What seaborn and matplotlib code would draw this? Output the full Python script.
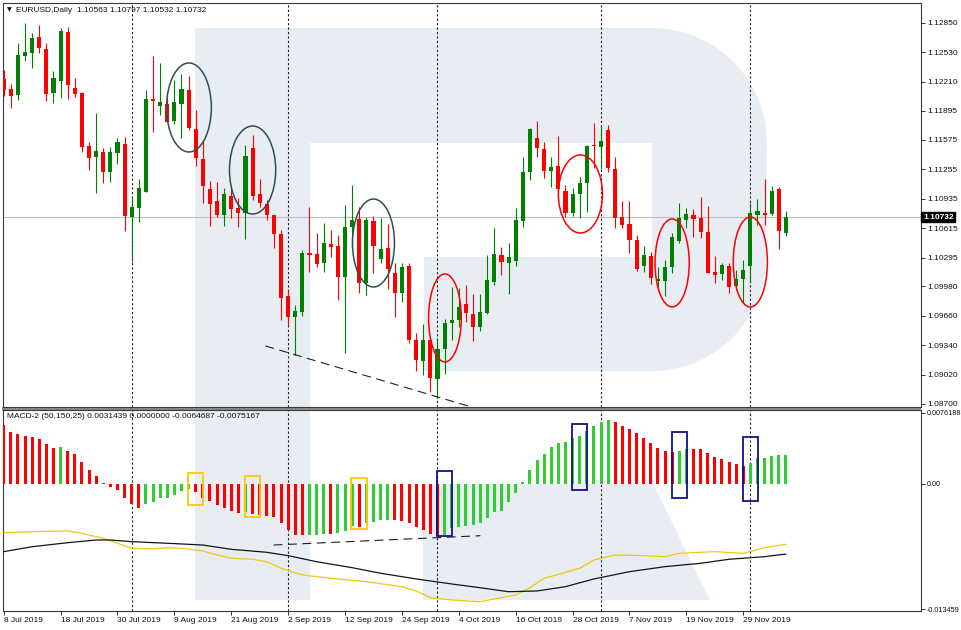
import matplotlib
matplotlib.use("Agg")
import matplotlib.pyplot as plt
import matplotlib.patches as mpatches
from matplotlib.transforms import Affine2D
import seaborn as sns
import numpy as np

# daily EURUSD candles, 8 Jul 2019 .. 9 Dec 2019
opens = [1.12236, 1.1213, 1.12065, 1.12493, 1.12526, 1.127, 1.12566, 1.1209, 1.12221, 1.12748,
         1.12145, 1.12084, 1.1151, 1.11387, 1.11441, 1.1123, 1.1143, 1.11528, 1.1074, 1.10838,
         1.11012, 1.12018, 1.11948, 1.11967, 1.11785, 1.11967, 1.12119, 1.11695, 1.11365, 1.11045,
         1.10911, 1.10758, 1.10965, 1.10838, 1.10777, 1.11491, 1.10987, 1.10878, 1.10758, 1.10551,
         1.09879, 1.09644, 1.09705, 1.10341, 1.1033, 1.10239, 1.10442, 1.10424, 1.1008, 1.10624,
         1.10715, 1.10021, 1.10693, 1.10276, 1.10396, 1.1013, 1.09912, 1.10206, 1.09397, 1.09172,
         1.09397, 1.08969, 1.09296, 1.09585, 1.09615, 1.09789, 1.09677, 1.09535, 1.09688, 1.10032,
         1.10323, 1.10239, 1.10261, 1.10696, 1.1123, 1.11593, 1.11477, 1.11237, 1.11295, 1.11023,
         1.10777, 1.10984, 1.1111, 1.1152, 1.11495, 1.11684, 1.11256, 1.10733, 1.10657, 1.10486,
         1.10206, 1.10312, 1.10043, 1.10043, 1.10189, 1.10478, 1.10704, 1.10758, 1.10722, 1.1057,
         1.10141, 1.10116, 1.10203, 1.09985, 1.10058, 1.10203, 1.10758, 1.10783, 1.10769, 1.11038,
         1.10563]
highs = [1.12337, 1.12182, 1.12635, 1.12846, 1.12737, 1.12827, 1.12628, 1.1233, 1.12798, 1.12809,
         1.12247, 1.12094, 1.11556, 1.11866, 1.11491, 1.11495, 1.116, 1.11611, 1.10947, 1.1115,
         1.12119, 1.1249, 1.1241, 1.12057, 1.12228, 1.12294, 1.12275, 1.11902, 1.11575, 1.11132,
         1.11121, 1.11049, 1.1106, 1.1094, 1.1152, 1.11629, 1.1115, 1.10922, 1.10758, 1.10595,
         1.09941, 1.09778, 1.10377, 1.10842, 1.10559, 1.10668, 1.10595, 1.1054, 1.10867, 1.11085,
         1.10849, 1.10733, 1.10747, 1.10722, 1.1066, 1.10232, 1.10232, 1.10232, 1.0947, 1.09571,
         1.09415, 1.09415, 1.09622, 1.09977, 1.0996, 1.09996, 1.09895, 1.09895, 1.10323, 1.1062,
         1.10413, 1.10457, 1.10838, 1.11387, 1.11702, 1.11782, 1.11556, 1.11387, 1.11622, 1.11085,
         1.11049, 1.11169, 1.1152, 1.11757, 1.11738, 1.11738, 1.11393, 1.10914, 1.10914, 1.1054,
         1.10421, 1.10359, 1.10195, 1.10268, 1.10565, 1.10886, 1.10831, 1.1082, 1.10957, 1.10859,
         1.10312, 1.10239, 1.10232, 1.10159, 1.10268, 1.10892, 1.10929, 1.1115, 1.11074, 1.1106,
         1.10797]
lows = [1.12054, 1.1192, 1.12007, 1.12435, 1.12362, 1.12519, 1.12003, 1.11981, 1.12036, 1.12018,
        1.12047, 1.11448, 1.11248, 1.11001, 1.1111, 1.11121, 1.11314, 1.10584, 1.1025, 1.10679,
        1.11005, 1.11659, 1.11847, 1.11767, 1.11746, 1.116, 1.11687, 1.11292, 1.10886, 1.10638,
        1.1074, 1.10638, 1.10722, 1.10624, 1.10494, 1.10922, 1.10842, 1.10704, 1.10402, 1.09615,
        1.0956, 1.09234, 1.09658, 1.10141, 1.10195, 1.10141, 1.10304, 1.09833, 1.09252, 1.10413,
        1.09912, 1.09887, 1.10123, 1.10232, 1.09949, 1.09651, 1.09814, 1.09361, 1.09063, 1.09016,
        1.08834, 1.08762, 1.09027, 1.09397, 1.09542, 1.09596, 1.09389, 1.09498, 1.0968, 1.09996,
        1.10105, 1.09898, 1.10206, 1.10631, 1.11139, 1.11393, 1.11164, 1.1106, 1.11023, 1.1074,
        1.10747, 1.10722, 1.10794, 1.11275, 1.11259, 1.1123, 1.1062, 1.1062, 1.10341, 1.10152,
        1.10141, 1.10007, 1.09941, 1.09876, 1.1013, 1.10457, 1.10613, 1.10522, 1.10511, 1.10123,
        1.10014, 1.1005, 1.09906, 1.09941, 1.09814, 1.10014, 1.1065, 1.1065, 1.10758, 1.10385,
        1.10532]
closes = [1.12119, 1.12057, 1.12501, 1.12537, 1.12689, 1.12574, 1.12076, 1.12247, 1.12762, 1.12174,
          1.12076, 1.11495, 1.11382, 1.11455, 1.11223, 1.11448, 1.1155, 1.10747, 1.10842, 1.11049,
          1.12021, 1.12, 1.11985, 1.11774, 1.11985, 1.1213, 1.11702, 1.11376, 1.11074, 1.10875,
          1.10758, 1.10987, 1.10824, 1.10777, 1.11404, 1.10968, 1.10886, 1.10758, 1.10548, 1.09851,
          1.09651, 1.09716, 1.10341, 1.10323, 1.10225, 1.1045, 1.10413, 1.1008, 1.10631, 1.10704,
          1.10021, 1.10704, 1.10424, 1.10388, 1.1017, 1.09906, 1.10195, 1.09397, 1.09179, 1.09397,
          1.0898, 1.09296, 1.09579, 1.09615, 1.0976, 1.09688, 1.09542, 1.09699, 1.1005, 1.10334,
          1.1025, 1.10304, 1.10704, 1.1123, 1.11695, 1.11485, 1.11237, 1.11284, 1.11038, 1.10777,
          1.10984, 1.11103, 1.11513, 1.1151, 1.11567, 1.11267, 1.10722, 1.10649, 1.10486, 1.1017,
          1.10323, 1.10069, 1.10058, 1.10195, 1.10515, 1.10722, 1.10766, 1.10711, 1.10576, 1.1013,
          1.10105, 1.10214, 1.09977, 1.10058, 1.10159, 1.10777, 1.10805, 1.10758, 1.11023, 1.10587,
          1.10732]

# MACD-2 histogram, one value per candle
hist = [0.00633, 0.00561, 0.00533, 0.00515, 0.00501, 0.0048, 0.00426, 0.00383, 0.00394, 0.00354,
        0.00318, 0.00233, 0.0015, 0.00086, 0.00012, -0.00029, -0.00064, -0.00154, -0.00218, -0.00254,
        -0.00218, -0.0019, -0.00154, -0.00147, -0.00118, -0.00075, -0.0005, -0.00089, -0.0015, -0.00182,
        -0.00225, -0.00261, -0.0029, -0.00315, -0.00305, -0.0032, -0.00333, -0.0034, -0.00355, -0.00422,
        -0.00494, -0.00545, -0.0055, -0.00548, -0.00545, -0.00538, -0.0054, -0.00525, -0.00505, -0.0045,
        -0.00458, -0.0042, -0.00404, -0.0039, -0.00385, -0.00387, -0.00395, -0.0042, -0.0046, -0.00495,
        -0.0054, -0.0056, -0.0055, -0.00476, -0.00462, -0.0045, -0.0044, -0.00422, -0.00368, -0.00304,
        -0.0029, -0.00189, -0.001, 0.00018, 0.0015, 0.00258, 0.00322, 0.004, 0.00436, 0.00447,
        0.0049, 0.00515, 0.00572, 0.00622, 0.00669, 0.00687, 0.00669, 0.00626, 0.0059, 0.00544,
        0.00497, 0.00436, 0.0039, 0.00354, 0.00347, 0.00354, 0.00376, 0.00375, 0.00372, 0.00329,
        0.00293, 0.00268, 0.0024, 0.00211, 0.00197, 0.00222, 0.00275, 0.00283, 0.00305, 0.0031,
        0.00314]

# the two MACD-2 lines, sampled along the chart
yellow_idx = [0, 4, 9, 11, 14, 16, 18, 21, 23, 25, 28, 30, 32, 35, 37, 39, 42, 46, 51, 56,
              58, 60, 63, 67, 72, 74, 76, 81, 83, 86, 90, 93, 95, 100, 104, 107, 110]
yellow_val = [-0.00523, -0.00512, -0.00504, -0.00529, -0.00583, -0.00636, -0.0069, -0.00697, -0.00683, -0.0069,
              -0.00719, -0.00762, -0.00797, -0.00808, -0.00834, -0.00905, -0.00976, -0.01012, -0.01048, -0.01102,
              -0.01148, -0.0122, -0.01245, -0.01263, -0.01191, -0.01113, -0.01012, -0.00905, -0.00815, -0.00762,
              -0.00769, -0.0078, -0.00744, -0.00726, -0.00744, -0.00683, -0.00647]
black_idx = [0, 4, 9, 13, 15, 18, 23, 28, 32, 37, 40, 44, 49, 53, 58, 63, 67, 71, 75, 79,
             83, 88, 93, 98, 102, 107, 110]
black_val = [-0.00726, -0.00673, -0.0063, -0.00601, -0.00601, -0.00619, -0.00636, -0.00655, -0.00701, -0.00733,
             -0.00769, -0.00834, -0.00898, -0.00958, -0.01019, -0.01073, -0.01113, -0.01156, -0.01148, -0.01102,
             -0.01019, -0.00941, -0.00887, -0.00851, -0.00808, -0.0078, -0.00752]

date_pos = [0, 8, 16, 24, 32, 40, 48, 56, 64, 72, 80, 88, 96, 104]
date_labels = ["8 Jul 2019", "18 Jul 2019", "30 Jul 2019", "9 Aug 2019", "21 Aug 2019", "2 Sep 2019",
               "12 Sep 2019", "24 Sep 2019", "4 Oct 2019", "16 Oct 2019", "28 Oct 2019", "7 Nov 2019",
               "19 Nov 2019", "29 Nov 2019"]
month_lines = [18, 40, 61, 84, 105]
price_ticks = [1.12850, 1.12530, 1.12210, 1.11895, 1.11575, 1.11255, 1.10935, 1.10615,
               1.10295, 1.09980, 1.09660, 1.09340, 1.09020, 1.08700]
macd_ticks = [0.0076188, 0.0, -0.013459]
macd_tick_labels = ["0.0076188", "0.00", "-0.013459"]
macd_title = "MACD-2 (50,150,25) 0.0031439 0.0000000 -0.0064687 -0.0075167"

# hand drawn marks on the chart: (bar, price, width in bars, height, colour)
ellipses = [(26.05, 1.11929, 6.3, 0.00969, "#2f4f4f"),
            (35.0, 1.11248, 6.5, 0.00958, "#2f4f4f"),
            (52.0, 1.10453, 5.9, 0.00958, "#2f4f4f"),
            (62.05, 1.09637, 4.6, 0.00958, "#ff0000"),
            (81.1, 1.10987, 6.2, 0.0085, "#ff0000"),
            (94.0, 1.10236, 4.8, 0.00958, "#ff0000"),
            (105.0, 1.10246, 4.8, 0.0098, "#ff0000")]
# (bar from, bar to, top, bottom, colour)
macd_boxes = [(25.86, 27.97, 0.00118, -0.00225, "#ffc800"),
              (33.87, 35.98, 0.00086, -0.00354, "#ffc800"),
              (48.91, 51.02, 0.00064, -0.00483, "#ffc800"),
              (61.0, 63.1, 0.00139, -0.00558, "#10108a"),
              (79.97, 82.08, 0.00644, -0.00064, "#10108a"),
              (94.03, 96.14, 0.00558, -0.0015, "#10108a"),
              (104.0, 106.1, 0.00504, -0.00182, "#10108a")]
trend_main = ([36.8, 65.8], [1.09332, 1.08667])
trend_macd = ([37.95, 67.04], [-0.00655, -0.00555])

W, H = 962, 630


def fx(x):
    return x / W


def fy(y):
    return 1 - y / H


sns.set_theme(style="white")
plt.rcParams['font.family'] = ['Liberation Sans', 'DejaVu Sans']
plt.rcParams['font.size'] = 6

fig = plt.figure(figsize=(W / 100, H / 100), dpi=100)
fig.patch.set_facecolor("white")

# watermark logo behind both panels (pixel space, y down)
pix = Affine2D().scale(1 / W, -1 / H).translate(0, 1) + fig.transFigure
t1 = np.linspace(np.pi / 2, 0, 20)
t2 = np.linspace(0, -np.pi / 2, 20)
outline = [(195, 28), (652, 28)]
outline += [(652 + 115 * np.cos(t), 143 - 115 * np.sin(t)) for t in t1]
outline += [(652 + 114 * np.cos(t), 257 - 114 * np.sin(t)) for t in t2]
outline += [(424, 371), (424, 257), (652, 257), (652, 143), (310, 143), (310, 600), (195, 600)]
logo_col = "#e8edf4"
fig.patches.append(mpatches.Polygon(outline, closed=True, fc=logo_col, ec="none",
                                    transform=pix, zorder=-2))
fig.patches.append(mpatches.Polygon([(423, 484), (653, 484), (710, 600), (423, 600)], closed=True,
                                    fc=logo_col, ec="none", transform=pix, zorder=-2))
fig.patches.append(mpatches.Rectangle((2, 406.5), 919, 4, fc="#8a8a8a", ec="none",
                                      transform=pix, zorder=-1))

ax = fig.add_axes([fx(3), fy(407), fx(921) - fx(3), fy(3) - fy(407)])
ax2 = fig.add_axes([fx(3), fy(611), fx(921) - fx(3), fy(410) - fy(611)], sharex=ax)
for a in (ax, ax2):
    a.set_facecolor("none")
    for s in a.spines.values():
        s.set_color("#3a3a3a")
        s.set_linewidth(0.8)

# candles
idx = np.arange(len(opens))
o, h, l, c = map(np.array, (opens, highs, lows, closes))
cols = np.where(c >= o, "#008000", "#ff0000")
ax.vlines(idx, l, h, colors=cols, linewidth=0.8, zorder=3)
ax.bar(idx, np.maximum(np.abs(c - o), 0.00007), bottom=np.minimum(o, c), width=0.58,
       color=cols, linewidth=0, zorder=4)

last = closes[-1]
ax.axhline(last, color="#c0c0c0", linewidth=0.8, zorder=1)
for m in month_lines:
    for a in (ax, ax2):
        a.axvline(m, color="#202020", linewidth=0.8, linestyle=(0, (2, 2)), zorder=2)

for cx, cy, w, hh, col in ellipses:
    ax.add_patch(mpatches.Ellipse((cx, cy), w, hh, fill=False, ec=col, linewidth=1.1, zorder=5))
ax.plot(*trend_main, color="#202020", linewidth=0.8, dashes=(8, 5), zorder=5)

# MACD-2 histogram: green when rising, red when falling
hv = np.array(hist)
hcol = ["#ff0000"] + ["#32cd32" if b > a else "#ff0000" for a, b in zip(hv[:-1], hv[1:])]
ax2.bar(idx, hv, width=0.42, color=hcol, linewidth=0, zorder=3)
sns.lineplot(x=yellow_idx, y=yellow_val, ax=ax2, color="#f2c80f", linewidth=0.9, zorder=4)
sns.lineplot(x=black_idx, y=black_val, ax=ax2, color="#141414", linewidth=0.9, zorder=4)
ax2.plot(*trend_macd, color="#202020", linewidth=0.8, dashes=(8, 5), zorder=5)
for x0, x1, top, bot, col in macd_boxes:
    ax2.add_patch(mpatches.Rectangle((x0, bot), x1 - x0, top - bot, fill=False, ec=col,
                                     linewidth=1.3, zorder=6))

# axes, ticks, labels
ax.set_xlim(-0.1, 129.0)
ax.set_ylim(1.08667, 1.13067)
ax2.set_ylim(-0.01363, 0.00794)

ax.yaxis.tick_right()
ax.set_yticks(price_ticks)
ax.set_yticklabels([f"{p:.5f}" for p in price_ticks])
ax.tick_params(axis="y", right=True, left=False, length=3, width=0.6, pad=1.5, labelsize=6,
               colors="#111111")
ax.tick_params(axis="x", bottom=False, labelbottom=False)

ax2.yaxis.tick_right()
ax2.set_yticks(macd_ticks)
ax2.set_yticklabels(macd_tick_labels)
ax2.tick_params(axis="y", right=True, left=False, length=3, width=0.6, pad=1.0, labelsize=5.2,
                colors="#111111")
ax2.set_xticks(date_pos)
ax2.set_xticklabels(date_labels, ha="left")
ax2.tick_params(axis="x", bottom=True, length=3, width=0.6, pad=1.5, labelsize=6, colors="#111111")
ax2.set_xlabel("")
ax2.set_ylabel("")

ax.text(1.0 + 2 / 918, last, f"{last:.5f}", transform=ax.get_yaxis_transform(), ha="left",
        va="center", fontsize=6, color="white", fontweight="bold",
        bbox=dict(boxstyle="square,pad=0.18", fc="black", ec="black"))

fig.text(fx(7), fy(10), "\u25bc", fontsize=4.5, family="DejaVu Sans", va="center", color="#111111")
fig.text(fx(16), fy(10), f"EURUSD,Daily  {opens[-1]:.5f} {highs[-1]:.5f} {lows[-1]:.5f} {closes[-1]:.5f}",
         fontsize=6, va="center", ha="left", color="#111111")
fig.text(fx(7), fy(417), macd_title, fontsize=6, va="center", ha="left", color="#111111")

fig.savefig("out.png", dpi=100)
